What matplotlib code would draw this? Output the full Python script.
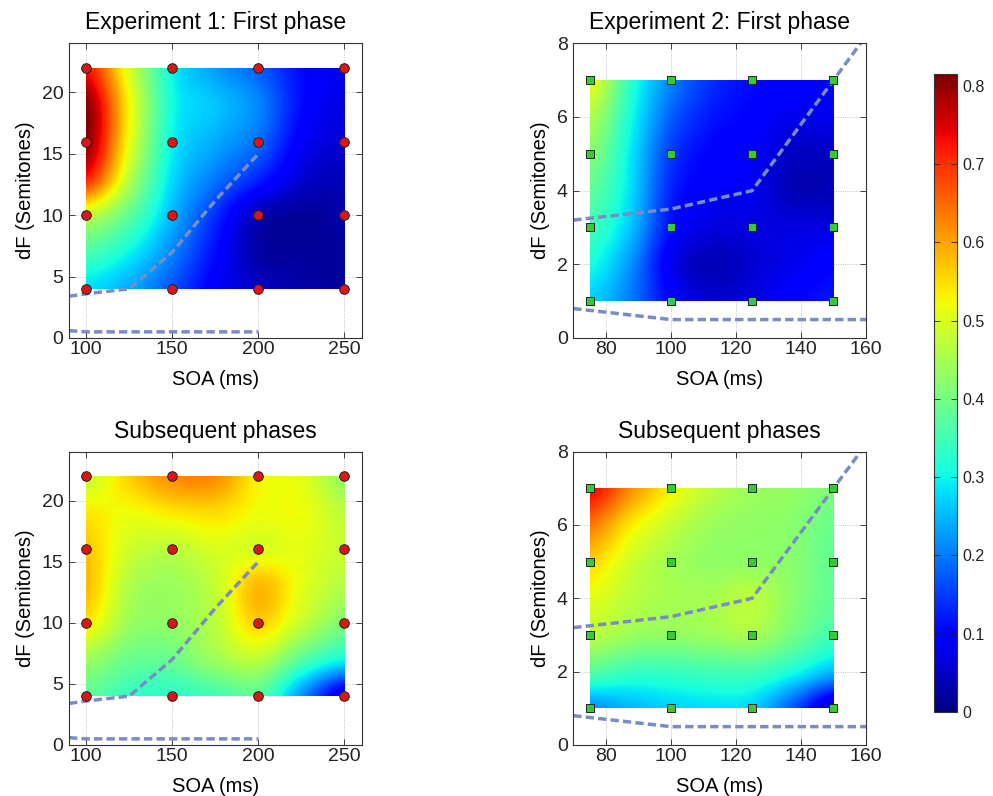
import numpy as np
import matplotlib

matplotlib.use("Agg")
import matplotlib.pyplot as plt
from matplotlib.patches import Rectangle
from matplotlib.cm import ScalarMappable
from matplotlib.colors import Normalize

plt.rcParams.update({
    "font.family": ["Liberation Sans", "DejaVu Sans"],
    "font.size": 14,
    "axes.titlesize": 16.5,
    "axes.labelsize": 14.5,
    "xtick.direction": "in",
    "ytick.direction": "in",
    "xtick.top": True,
    "ytick.right": True,
    "axes.edgecolor": "#333333",
    "axes.linewidth": 0.8,
})

VMAX = 0.815
MARK_RED = "#dd1515"
MARK_GREEN = "#33cc33"
DASH = "#7a8cc4"

# ---- experiment 1 grid (values read at half steps) ------------------------ #
SOA_1 = [100, 125, 150, 175, 200, 225, 250]
DF_1 = [4, 7, 10, 13, 16, 19, 22]
NODE_SOA_1 = [100, 150, 200, 250]
NODE_DF_1 = [4, 10, 16, 22]

# rows: dF low -> high, columns: SOA low -> high
EXP1_FIRST = [
    [0.28, 0.24, 0.17, 0.09, 0.05, 0.03, 0.02],
    [0.36, 0.30, 0.21, 0.11, 0.03, 0.02, 0.02],
    [0.48, 0.38, 0.25, 0.14, 0.04, 0.02, 0.03],
    [0.72, 0.47, 0.28, 0.20, 0.13, 0.06, 0.04],
    [0.81, 0.52, 0.30, 0.24, 0.19, 0.09, 0.06],
    [0.81, 0.53, 0.31, 0.26, 0.21, 0.11, 0.07],
    [0.73, 0.50, 0.30, 0.23, 0.18, 0.11, 0.08],
]
EXP1_LATER = [
    [0.38, 0.34, 0.33, 0.35, 0.37, 0.22, 0.06],
    [0.44, 0.39, 0.39, 0.44, 0.47, 0.37, 0.30],
    [0.54, 0.44, 0.43, 0.47, 0.56, 0.48, 0.41],
    [0.58, 0.46, 0.44, 0.48, 0.58, 0.51, 0.46],
    [0.57, 0.49, 0.47, 0.50, 0.50, 0.51, 0.48],
    [0.54, 0.52, 0.54, 0.55, 0.52, 0.52, 0.47],
    [0.48, 0.56, 0.62, 0.62, 0.53, 0.51, 0.43],
]

# ---- experiment 2 grid ---------------------------------------------------- #
SOA_2 = [75, 87.5, 100, 112.5, 125, 137.5, 150]
DF_2 = [1, 2, 3, 4, 5, 6, 7]
NODE_SOA_2 = [75, 100, 125, 150]
NODE_DF_2 = [1, 3, 5, 7]

EXP2_FIRST = [
    [0.27, 0.20, 0.10, 0.06, 0.07, 0.10, 0.12],
    [0.31, 0.22, 0.08, 0.04, 0.06, 0.08, 0.10],
    [0.35, 0.26, 0.11, 0.07, 0.07, 0.07, 0.07],
    [0.38, 0.28, 0.13, 0.09, 0.08, 0.04, 0.04],
    [0.42, 0.29, 0.15, 0.10, 0.09, 0.05, 0.05],
    [0.46, 0.31, 0.18, 0.12, 0.10, 0.08, 0.08],
    [0.52, 0.33, 0.21, 0.14, 0.11, 0.10, 0.10],
]
EXP2_LATER = [
    [0.22, 0.25, 0.27, 0.28, 0.27, 0.17, 0.04],
    [0.37, 0.34, 0.34, 0.35, 0.35, 0.31, 0.25],
    [0.47, 0.44, 0.43, 0.44, 0.45, 0.40, 0.35],
    [0.51, 0.47, 0.45, 0.45, 0.47, 0.42, 0.38],
    [0.56, 0.49, 0.45, 0.43, 0.43, 0.42, 0.38],
    [0.64, 0.54, 0.48, 0.44, 0.43, 0.42, 0.39],
    [0.74, 0.62, 0.53, 0.47, 0.44, 0.43, 0.41],
]

# ---- boundary lines ------------------------------------------------------- #
UPPER_SOA_1 = [90, 100, 125, 150, 175, 200]
UPPER_DF_1 = [3.4, 3.6, 4.0, 7.0, 11.2, 15.0]
LOWER_SOA_1 = [90, 100, 150, 200]
LOWER_DF_1 = [0.6, 0.5, 0.5, 0.5]
UPPER_SOA_2 = [70, 100, 125, 150, 160]
UPPER_DF_2 = [3.2, 3.5, 4.0, 7.0, 8.2]
LOWER_SOA_2 = [70, 100, 160]
LOWER_DF_2 = [0.8, 0.5, 0.5]

TITLES = ["Experiment 1: First phase", "Experiment 2: First phase",
          "Subsequent phases", "Subsequent phases"]


def draw_panel(ax, soa, df, values, node_soa, node_df, marker, mcolor, msize,
               upper, lower, xlim, ylim, xticks, yticks, title):
    values = np.array(values)
    dx = (soa[-1] - soa[0]) / (len(soa) - 1)
    dy = (df[-1] - df[0]) / (len(df) - 1)
    im = ax.imshow(values, origin="lower", cmap="jet", vmin=0, vmax=VMAX,
                   extent=[soa[0] - dx / 2, soa[-1] + dx / 2,
                           df[0] - dy / 2, df[-1] + dy / 2],
                   interpolation="catrom", interpolation_stage="data",
                   aspect="auto", zorder=1)
    clip = Rectangle((soa[0], df[0]), soa[-1] - soa[0], df[-1] - df[0],
                     transform=ax.transData)
    im.set_clip_path(clip)
    for xs, ys in (upper, lower):
        ax.plot(xs, ys, color=DASH, lw=2.5, dashes=(2.4, 1.2), zorder=2)
    gx, gy = np.meshgrid(node_soa, node_df)
    ax.scatter(gx.ravel(), gy.ravel(), marker=marker, s=msize, color=mcolor,
               edgecolor="#222222", linewidth=0.7, zorder=3, clip_on=False)
    ax.set_xlim(*xlim)
    ax.set_ylim(*ylim)
    ax.set_xticks(xticks)
    ax.set_yticks(yticks)
    ax.set_axisbelow(True)
    ax.grid(True, color="#b0b0b0", lw=0.6, ls=":")
    ax.set_xlabel("SOA (ms)", labelpad=9)
    ax.set_ylabel("dF (Semitones)", labelpad=5)
    ax.set_title(title, pad=10)
    ax.tick_params(axis="x", length=4, width=0.6, pad=2, colors="#222222")
    ax.tick_params(axis="y", length=4, width=0.6, pad=4, colors="#222222")


fig = plt.figure(figsize=(9.93, 7.96), dpi=100)
ax_a = fig.add_axes([0.0695, 0.5754, 0.2947, 0.3702])
ax_b = fig.add_axes([0.5773, 0.5754, 0.2948, 0.3702])
ax_c = fig.add_axes([0.0695, 0.0641, 0.2947, 0.3685])
ax_d = fig.add_axes([0.5773, 0.0641, 0.2948, 0.3685])

exp1 = dict(soa=SOA_1, df=DF_1, node_soa=NODE_SOA_1, node_df=NODE_DF_1,
            marker="o", mcolor=MARK_RED, msize=48,
            upper=(UPPER_SOA_1, UPPER_DF_1), lower=(LOWER_SOA_1, LOWER_DF_1),
            xlim=(90, 260), ylim=(0, 24),
            xticks=[100, 150, 200, 250], yticks=[0, 5, 10, 15, 20])
exp2 = dict(soa=SOA_2, df=DF_2, node_soa=NODE_SOA_2, node_df=NODE_DF_2,
            marker="s", mcolor=MARK_GREEN, msize=30,
            upper=(UPPER_SOA_2, UPPER_DF_2), lower=(LOWER_SOA_2, LOWER_DF_2),
            xlim=(70, 160), ylim=(0, 8),
            xticks=[80, 100, 120, 140, 160], yticks=[0, 2, 4, 6, 8])

draw_panel(ax_a, values=EXP1_FIRST, title=TITLES[0], **exp1)
draw_panel(ax_b, values=EXP2_FIRST, title=TITLES[1], **exp2)
draw_panel(ax_c, values=EXP1_LATER, title=TITLES[2], **exp1)
draw_panel(ax_d, values=EXP2_LATER, title=TITLES[3], **exp2)

cax = fig.add_axes([0.9406, 0.1055, 0.0232, 0.8015])
bar = fig.colorbar(ScalarMappable(norm=Normalize(0, VMAX), cmap="jet"), cax=cax)
bar.set_ticks([0, 0.1, 0.2, 0.3, 0.4, 0.5, 0.6, 0.7, 0.8])
bar.set_ticklabels(["0", "0.1", "0.2", "0.3", "0.4", "0.5", "0.6", "0.7", "0.8"])
cax.tick_params(direction="in", length=4, width=0.6, left=True, right=True,
                labelsize=11.5, colors="#222222")
bar.outline.set_linewidth(0.8)

fig.savefig("out.png")
